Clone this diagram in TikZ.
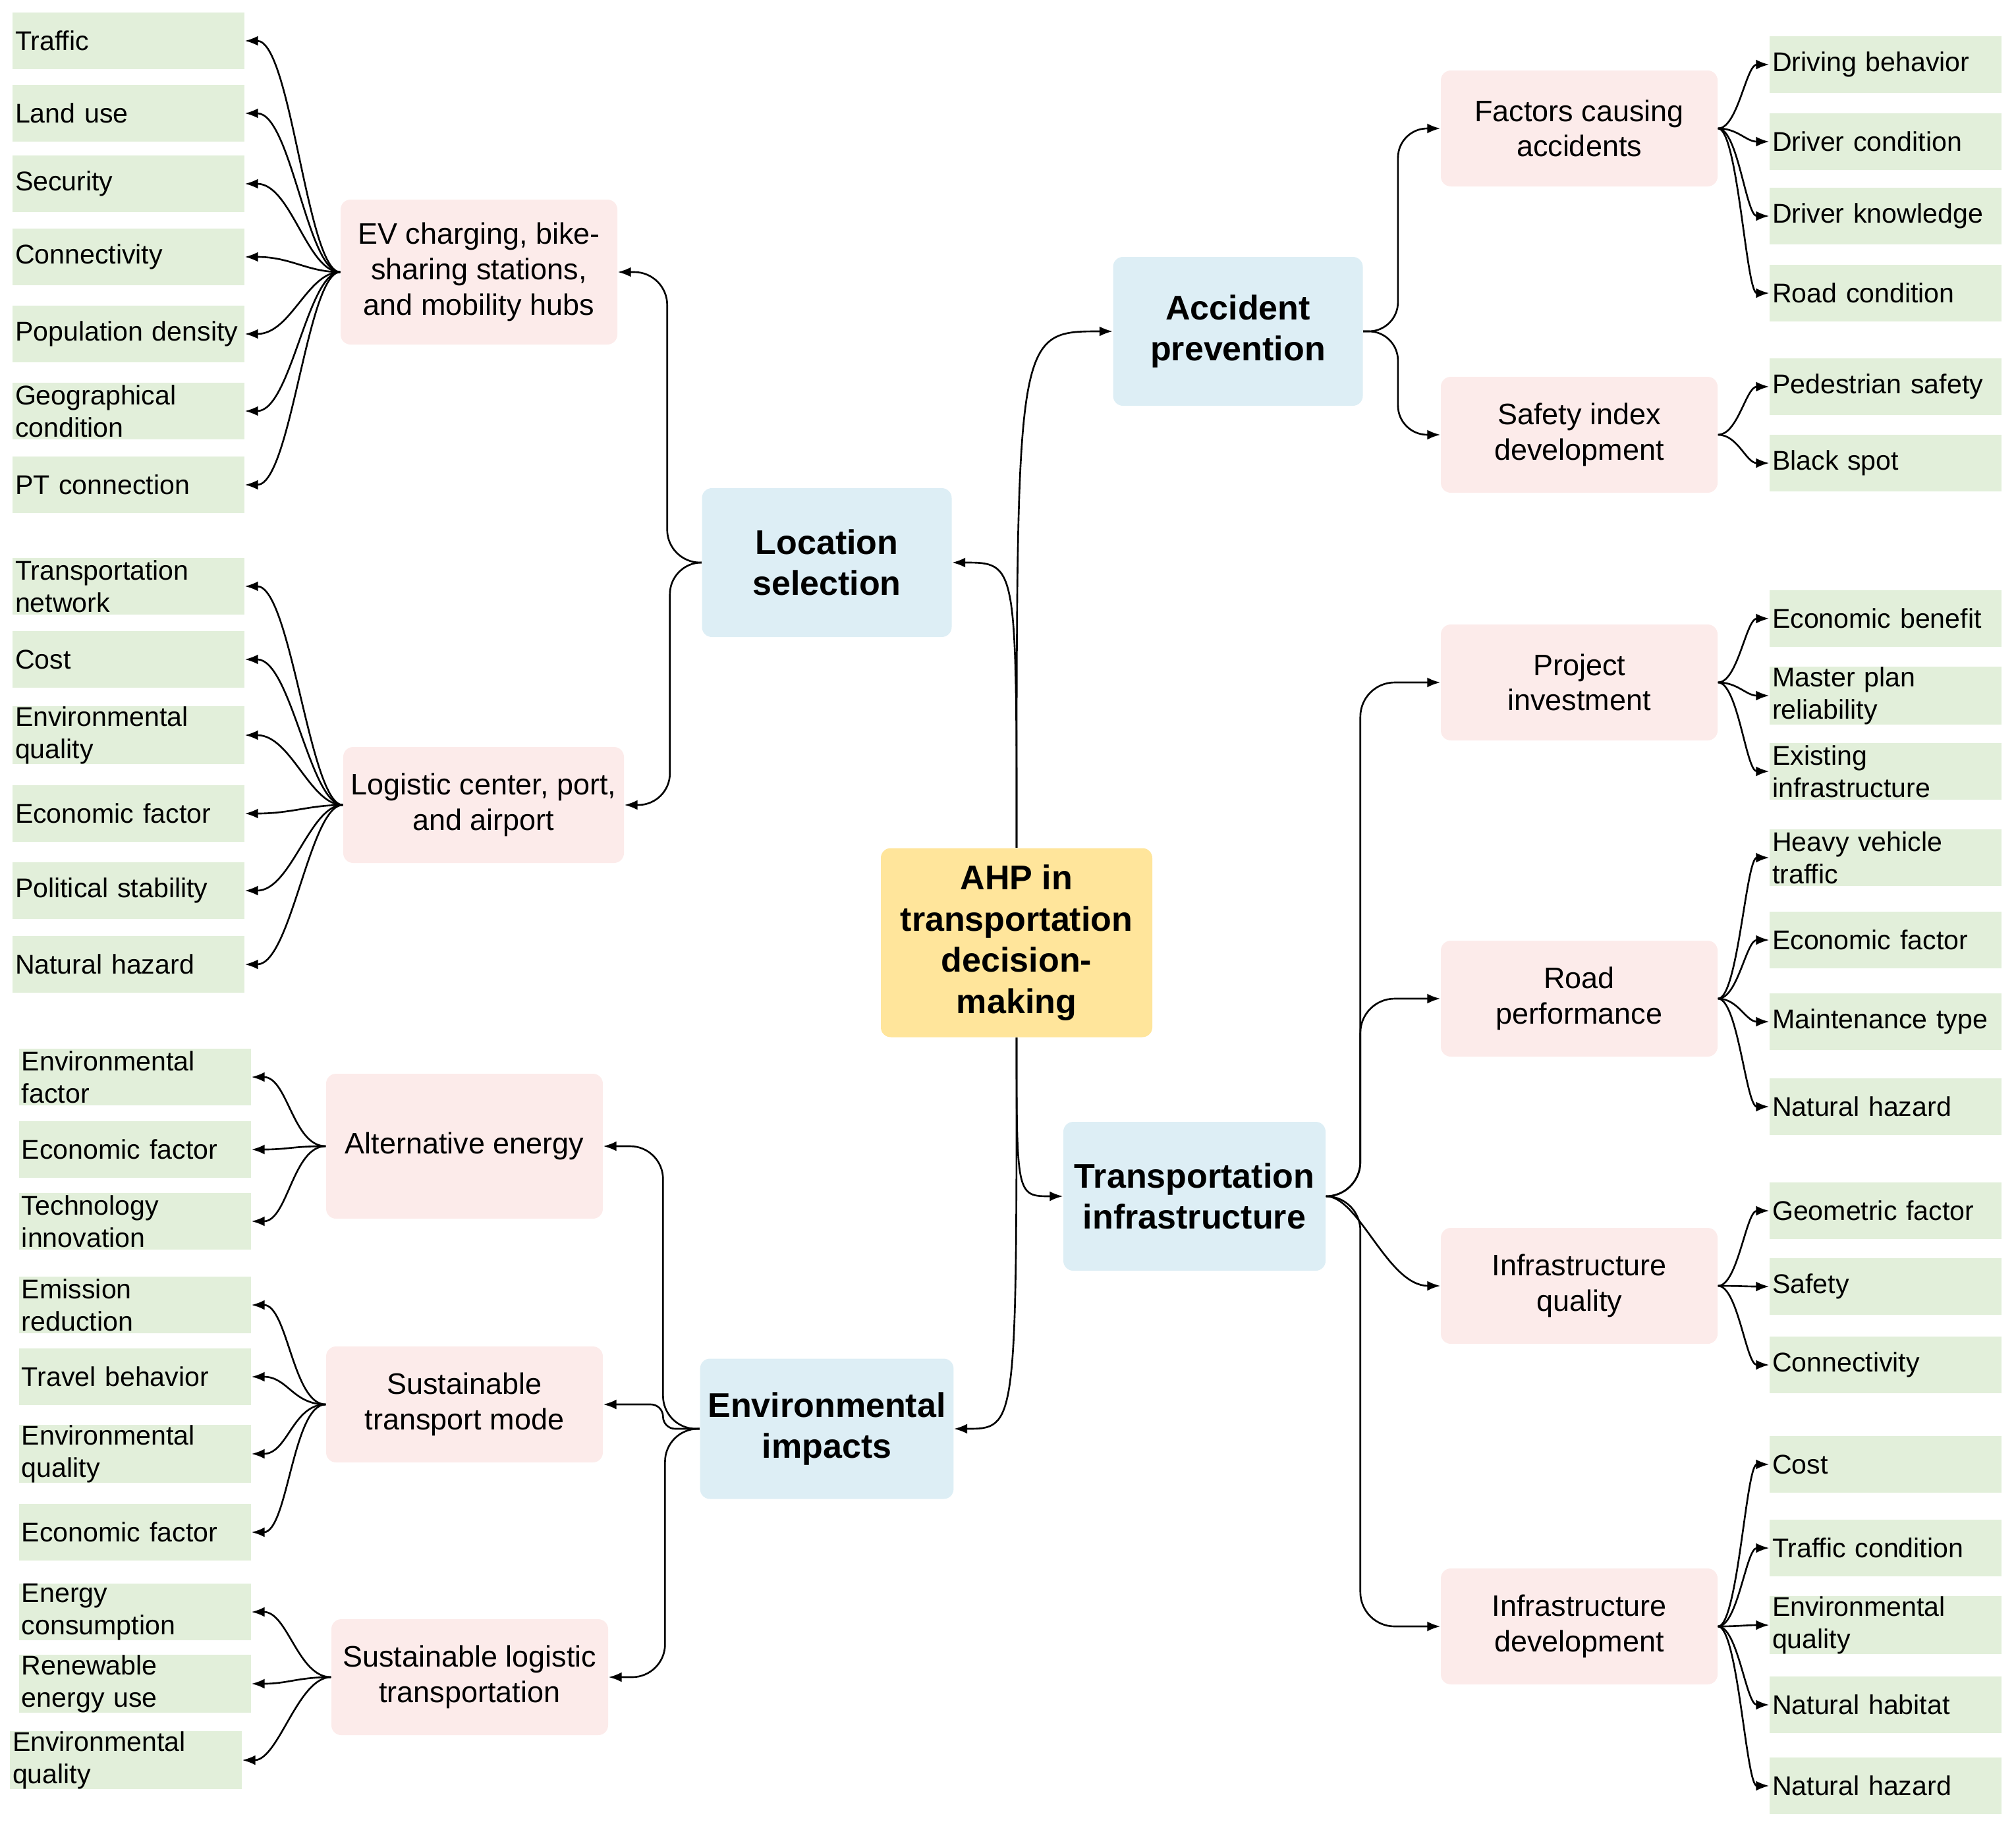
\documentclass[tikz,border=0pt]{standalone}
\usepackage{fontspec}
\setmainfont{Liberation Sans}
\usepackage{xcolor}
\usetikzlibrary{arrows.meta,calc}
\definecolor{leafgreen}{HTML}{E2EFDA}
\definecolor{topicpink}{HTML}{FCEBEA}
\definecolor{catblue}{HTML}{DDEEF5}
\definecolor{rootyellow}{HTML}{FFE59B}

\begin{document}
\begin{tikzpicture}[
    every node/.style={font=\fontsize{11.7}{14}\selectfont},
    leaf/.style={fill=leafgreen, minimum width=3.52cm, minimum height=0.86cm, text width=3.44cm, inner xsep=0.04cm, inner ysep=0pt, align=left},
    topic/.style={fill=topicpink, rounded corners=0.15cm, minimum width=4.2cm, minimum height=1.76cm, align=center, font=\fontsize{12.8}{15.3}\selectfont},
    cat/.style={fill=catblue, rounded corners=0.15cm, minimum width=3.79cm, minimum height=2.26cm, align=center, font=\fontsize{14.8}{17.8}\selectfont\bfseries},
    root/.style={fill=rootyellow, rounded corners=0.15cm, minimum width=4.12cm, minimum height=2.87cm, align=center, font=\fontsize{14.8}{17.8}\selectfont\bfseries},
    link/.style={-{Latex[length=2mm,width=1.5mm]}, line width=0.75pt},
    toL/.style 2 args={out=180, in=0, out distance=#1, in distance=#2},
    toR/.style 2 args={out=0, in=180, out distance=#1, in distance=#2},
    % elbow: vertical run at fraction #1 of the gap, bends of radius #2
    elbow/.style 2 args={to path={let \p1=(\tikztostart), \p2=(\tikztotarget),
        \n1={\x1+#1*(\x2-\x1)},
        \n2={min(#2, abs(\y2-\y1)/2, abs(\n1-\x1), abs(\x2-\n1)-2mm)} in
        [rounded corners=\n2] -- (\n1,\y1) -- (\n1,\y2) -- (\tikztotarget) \tikztonodes}}
  ]
        \useasboundingbox (0,0) rectangle (30.6,-27.71);
        % Root
        \node[root] (ahp) at (15.43,-14.31) {AHP in\\transportation\\decision-\\making};
        % Categories
        \node[cat] (loc) at (12.55,-8.54) {Location\\selection};
        \node[cat] (acc) at (18.79,-5.03) {Accident\\prevention};
        \node[cat, minimum width=3.98cm] (tin) at (18.13,-18.16) {Transportation\\infrastructure};
        \node[cat, minimum height=2.13cm] (env) at (12.55,-21.69) {Environmental\\impacts};
        % Topics
        \node[topic, minimum height=2.2cm] (ev) at (7.27,-4.13) {EV charging, bike-\\sharing stations,\\and mobility hubs};
        \node[topic] (logi) at (7.34,-12.22) {Logistic center, port,\\and airport};
        \node[topic, minimum height=2.2cm] (alt) at (7.05,-17.40) {Alternative energy};
        \node[topic] (stm) at (7.05,-21.32) {Sustainable\\transport mode};
        \node[topic] (slt) at (7.13,-25.46) {Sustainable logistic\\transportation};
        \node[topic] (fca) at (23.97,-1.95) {Factors causing\\accidents};
        \node[topic] (sid) at (23.97,-6.60) {Safety index\\development};
        \node[topic] (proj) at (23.97,-10.36) {Project\\investment};
        \node[topic] (roadp) at (23.97,-15.16) {Road\\performance};
        \node[topic] (infq) at (23.97,-19.52) {Infrastructure\\quality};
        \node[topic] (infd) at (23.97,-24.69) {Infrastructure\\development};
        % Leaves, left
        \node[leaf] (traffic) at (1.95,-0.62) {Traffic};
        \node[leaf] (landuse) at (1.95,-1.72) {Land use};
        \node[leaf] (security) at (1.95,-2.79) {Security};
        \node[leaf] (connecta) at (1.95,-3.90) {Connectivity};
        \node[leaf] (popdens) at (1.95,-5.07) {Population density};
        \node[leaf] (geocond) at (1.95,-6.24) {Geographical\\condition};
        \node[leaf] (ptconn) at (1.95,-7.36) {PT connection};
        \node[leaf] (transnet) at (1.95,-8.90) {Transportation\\network};
        \node[leaf] (costa) at (1.95,-10.01) {Cost};
        \node[leaf] (envqa) at (1.95,-11.16) {Environmental\\quality};
        \node[leaf] (econa) at (1.95,-12.35) {Economic factor};
        \node[leaf] (polstab) at (1.95,-13.52) {Political stability};
        \node[leaf] (hazarda) at (1.95,-14.64) {Natural hazard};
        \node[leaf] (envfac) at (2.05,-16.35) {Environmental\\factor};
        \node[leaf] (econb) at (2.05,-17.45) {Economic factor};
        \node[leaf] (techinn) at (2.05,-18.54) {Technology\\innovation};
        \node[leaf] (emisred) at (2.05,-19.81) {Emission\\reduction};
        \node[leaf] (travbeh) at (2.05,-20.90) {Travel behavior};
        \node[leaf] (envqb) at (2.05,-22.07) {Environmental\\quality};
        \node[leaf] (econc) at (2.05,-23.26) {Economic factor};
        \node[leaf] (energy) at (2.05,-24.47) {Energy\\consumption};
        \node[leaf] (renew) at (2.05,-25.56) {Renewable\\energy use};
        \node[leaf] (envqc) at (1.91,-26.72) {Environmental\\quality};
        % Leaves, right
        \node[leaf] (drivbeh) at (28.62,-0.98) {Driving behavior};
        \node[leaf] (drivcond) at (28.62,-2.15) {Driver condition};
        \node[leaf] (drivknow) at (28.62,-3.28) {Driver knowledge};
        \node[leaf] (roadcond) at (28.62,-4.45) {Road condition};
        \node[leaf] (pedsafe) at (28.62,-5.87) {Pedestrian safety};
        \node[leaf] (blackspot) at (28.62,-7.03) {Black spot};
        \node[leaf] (econben) at (28.62,-9.39) {Economic benefit};
        \node[leaf] (masterplan) at (28.62,-10.56) {Master plan\\reliability};
        \node[leaf] (existinf) at (28.62,-11.71) {Existing\\infrastructure};
        \node[leaf] (heavy) at (28.62,-13.02) {Heavy vehicle\\traffic};
        \node[leaf] (econd) at (28.62,-14.27) {Economic factor};
        \node[leaf] (mainttype) at (28.62,-15.51) {Maintenance type};
        \node[leaf] (hazardb) at (28.62,-16.80) {Natural hazard};
        \node[leaf] (geomfac) at (28.62,-18.38) {Geometric factor};
        \node[leaf] (safety) at (28.62,-19.53) {Safety};
        \node[leaf] (connectb) at (28.62,-20.72) {Connectivity};
        \node[leaf] (costb) at (28.62,-22.23) {Cost};
        \node[leaf] (trafcond) at (28.62,-23.50) {Traffic condition};
        \node[leaf] (envqd) at (28.62,-24.67) {Environmental\\quality};
        \node[leaf] (habitat) at (28.62,-25.88) {Natural habitat};
        \node[leaf] (hazardc) at (28.62,-27.11) {Natural hazard};
        % Root links
        \draw[link] (ahp.north) .. controls (ahp.north |- loc.east) .. (loc.east);
        \draw[link] (ahp.north) .. controls (ahp.north |- acc.west) .. (acc.west);
        \draw[link] (ahp.south) .. controls (ahp.south |- tin.west) .. (tin.west);
        \draw[link] (ahp.south) .. controls (ahp.south |- env.east) .. (env.east);
        % Category links
        \draw[link] (loc.west) to[elbow={0.41}{0.5cm}] (ev.east);
        \draw[link] (loc.west) to[elbow={0.41}{0.5cm}] (logi.east);
        \draw[link] (env.west) to[elbow={0.38}{0.5cm}] (alt.east);
        \draw[link] (env.west) to[elbow={0.38}{0.5cm}] (stm.east);
        \draw[link] (env.west) to[elbow={0.38}{0.5cm}] (slt.east);
        \draw[link] (acc.east) to[elbow={0.45}{0.5cm}] (fca.west);
        \draw[link] (acc.east) to[elbow={0.45}{0.5cm}] (sid.west);
        \draw[link] (tin.east) to[elbow={0.3}{0.55cm}] (proj.west);
        \draw[link] (tin.east) to[elbow={0.3}{0.55cm}] (roadp.west);
        \draw[link] (tin.east) to[toR={0.5cm}{0.8cm}] (infq.west);
        \draw[link] (tin.east) to[elbow={0.3}{0.55cm}] (infd.west);
        % Leaf links, left
        \draw[link] (ev.west) to[toL={0.5cm}{0.7cm}] (traffic.east);
        \draw[link] (ev.west) to[toL={0.5cm}{0.7cm}] (landuse.east);
        \draw[link] (ev.west) to[toL={0.5cm}{0.7cm}] (security.east);
        \draw[link] (ev.west) to[toL={0.5cm}{0.7cm}] (connecta.east);
        \draw[link] (ev.west) to[toL={0.5cm}{0.7cm}] (popdens.east);
        \draw[link] (ev.west) to[toL={0.5cm}{0.7cm}] (geocond.east);
        \draw[link] (ev.west) to[toL={0.5cm}{0.7cm}] (ptconn.east);
        \draw[link] (logi.west) to[toL={0.5cm}{0.7cm}] (transnet.east);
        \draw[link] (logi.west) to[toL={0.5cm}{0.7cm}] (costa.east);
        \draw[link] (logi.west) to[toL={0.5cm}{0.7cm}] (envqa.east);
        \draw[link] (logi.west) to[toL={0.5cm}{0.7cm}] (econa.east);
        \draw[link] (logi.west) to[toL={0.5cm}{0.7cm}] (polstab.east);
        \draw[link] (logi.west) to[toL={0.5cm}{0.7cm}] (hazarda.east);
        \draw[link] (alt.west) to[toL={0.5cm}{0.55cm}] (envfac.east);
        \draw[link] (alt.west) to[toL={0.5cm}{0.55cm}] (econb.east);
        \draw[link] (alt.west) to[toL={0.5cm}{0.55cm}] (techinn.east);
        \draw[link] (stm.west) to[toL={0.5cm}{0.55cm}] (emisred.east);
        \draw[link] (stm.west) to[toL={0.5cm}{0.55cm}] (travbeh.east);
        \draw[link] (stm.west) to[toL={0.5cm}{0.55cm}] (envqb.east);
        \draw[link] (stm.west) to[toL={0.5cm}{0.55cm}] (econc.east);
        \draw[link] (slt.west) to[toL={0.5cm}{0.55cm}] (energy.east);
        \draw[link] (slt.west) to[toL={0.5cm}{0.55cm}] (renew.east);
        \draw[link] (slt.west) to[toL={0.5cm}{0.55cm}] (envqc.east);
        % Leaf links, right
        \draw[link] (fca.east) to[toR={0.3cm}{0.35cm}] (drivbeh.west);
        \draw[link] (fca.east) to[toR={0.3cm}{0.35cm}] (drivcond.west);
        \draw[link] (fca.east) to[toR={0.3cm}{0.35cm}] (drivknow.west);
        \draw[link] (fca.east) to[toR={0.3cm}{0.35cm}] (roadcond.west);
        \draw[link] (sid.east) to[toR={0.3cm}{0.35cm}] (pedsafe.west);
        \draw[link] (sid.east) to[toR={0.3cm}{0.35cm}] (blackspot.west);
        \draw[link] (proj.east) to[toR={0.3cm}{0.35cm}] (econben.west);
        \draw[link] (proj.east) to[toR={0.3cm}{0.35cm}] (masterplan.west);
        \draw[link] (proj.east) to[toR={0.3cm}{0.35cm}] (existinf.west);
        \draw[link] (roadp.east) to[toR={0.3cm}{0.35cm}] (heavy.west);
        \draw[link] (roadp.east) to[toR={0.3cm}{0.35cm}] (econd.west);
        \draw[link] (roadp.east) to[toR={0.3cm}{0.35cm}] (mainttype.west);
        \draw[link] (roadp.east) to[toR={0.3cm}{0.35cm}] (hazardb.west);
        \draw[link] (infq.east) to[toR={0.3cm}{0.35cm}] (geomfac.west);
        \draw[link] (infq.east) to[toR={0.3cm}{0.35cm}] (safety.west);
        \draw[link] (infq.east) to[toR={0.3cm}{0.35cm}] (connectb.west);
        \draw[link] (infd.east) to[toR={0.3cm}{0.35cm}] (costb.west);
        \draw[link] (infd.east) to[toR={0.3cm}{0.35cm}] (trafcond.west);
        \draw[link] (infd.east) to[toR={0.3cm}{0.35cm}] (envqd.west);
        \draw[link] (infd.east) to[toR={0.3cm}{0.35cm}] (habitat.west);
        \draw[link] (infd.east) to[toR={0.3cm}{0.35cm}] (hazardc.west);
\end{tikzpicture}
\end{document}
